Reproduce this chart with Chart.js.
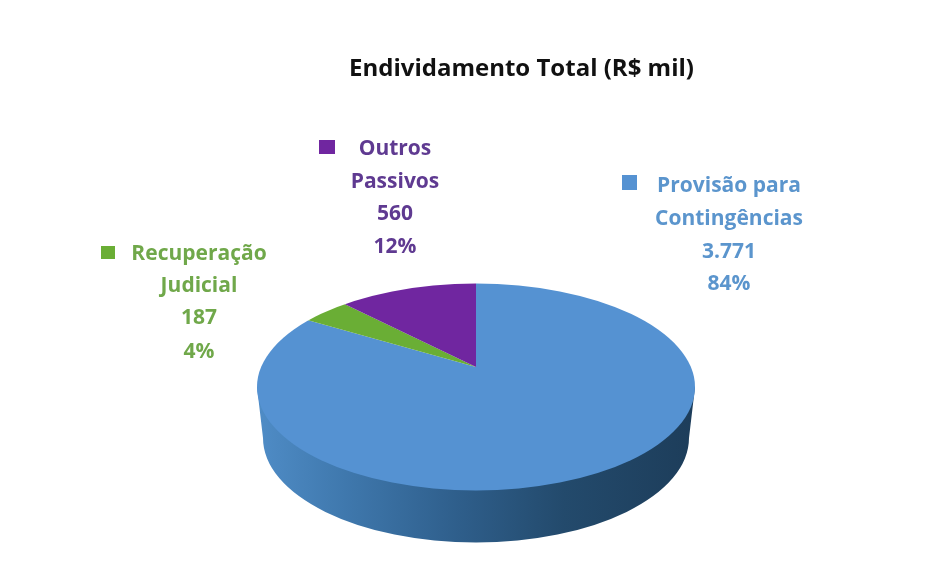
<!DOCTYPE html>
<html><head><meta charset="utf-8">
<script src="https://cdn.jsdelivr.net/npm/chart.js@4/dist/chart.umd.min.js"></script>
<style>html,body{margin:0;padding:0;background:#fff}#w{width:935px;height:583px}</style>
</head><body><div id="w"><canvas id="c" width="935" height="583"></canvas></div>
<script>
const categories = ['Provisão para Contingências', 'Recuperação Judicial', 'Outros Passivos'];
const seriesValues = [3771, 187, 560];
const valueLabels = ['3.771', '187', '560'];
const percentLabels = ['84%', '4%', '12%'];
const sliceColors = ['#5592d2', '#6aae35', '#7026a0'];
const textColors = ['#5b95cd', '#70a84a', '#5f3a91'];
const nameLines = [['Provisão para', 'Contingências'], ['Recuperação', 'Judicial'], ['Outros', 'Passivos']];
const FONT = '"Open Sans", sans-serif';

const TOP = {cx: 476, cy: 387, rx: 219, ry: 103.5, apexY: 367};
const WALL = {cx: 476, cy: 438, rx: 213, ry: 104.5};
const LABELS = [
  {x: 729, ys: [186, 219, 252, 284], box: [622, 175, 15, 15]},
  {x: 199, ys: [254, 286, 318, 352], box: [101, 246, 14, 13]},
  {x: 395, ys: [149, 182, 214, 247], box: [319, 140, 16, 14]}
];

const pie3d = {
  id: 'pie3d',
  beforeDatasetsDraw(chart) {
    const ctx = chart.ctx, arc = chart.getDatasetMeta(0).data[0];
    ctx.save();
    const g = ctx.createLinearGradient(258, 0, 695, 0);
    g.addColorStop(0, '#4f8cc6'); g.addColorStop(0.2, '#3f78ad');
    g.addColorStop(0.45, '#2f5f8c'); g.addColorStop(0.7, '#234a6c');
    g.addColorStop(1, '#1d3d5a');
    ctx.fillStyle = g;
    ctx.beginPath();
    ctx.moveTo(TOP.cx - TOP.rx, TOP.cy);
    ctx.lineTo(WALL.cx - WALL.rx, WALL.cy);
    ctx.ellipse(WALL.cx, WALL.cy, WALL.rx, WALL.ry, 0, Math.PI, 0, true);
    ctx.lineTo(TOP.cx + TOP.rx, TOP.cy);
    ctx.closePath();
    ctx.fill();
    ctx.beginPath();
    ctx.ellipse(TOP.cx, TOP.cy, TOP.rx, TOP.ry, 0, 0, Math.PI * 2);
    ctx.clip();
    const k = 1.3, R = arc.outerRadius;
    ctx.translate(TOP.cx, TOP.apexY);
    ctx.scale(TOP.rx * k / R, TOP.ry * k / R);
    ctx.translate(-arc.x, -arc.y);
  },
  afterDatasetsDraw(chart) {
    const ctx = chart.ctx;
    ctx.restore();
    ctx.save();
    ctx.textAlign = 'center';
    ctx.textBaseline = 'middle';
    ctx.font = 'bold 21px ' + FONT;
    categories.forEach((_, i) => {
      const L = LABELS[i];
      const lines = [...nameLines[i], valueLabels[i], percentLabels[i]];
      ctx.fillStyle = textColors[i];
      lines.forEach((t, j) => ctx.fillText(t, L.x, L.ys[j]));
      ctx.fillStyle = sliceColors[i];
      ctx.fillRect(...L.box);
    });
    ctx.restore();
  }
};

new Chart(document.getElementById('c'), {
  type: 'pie',
  data: {labels: categories, datasets: [{data: seriesValues, backgroundColor: sliceColors, borderWidth: 0}]},
  options: {
    responsive: false, animation: false,
    layout: {padding: {left: 108}},
    plugins: {
      legend: {display: false}, tooltip: {enabled: false},
      title: {display: true, text: 'Endividamento Total (R$ mil)', color: '#111',
        font: {family: FONT, size: 24, weight: 'bold'}, padding: {top: 55, bottom: 20}}
    }
  },
  plugins: [pie3d]
});
</script></body></html>
